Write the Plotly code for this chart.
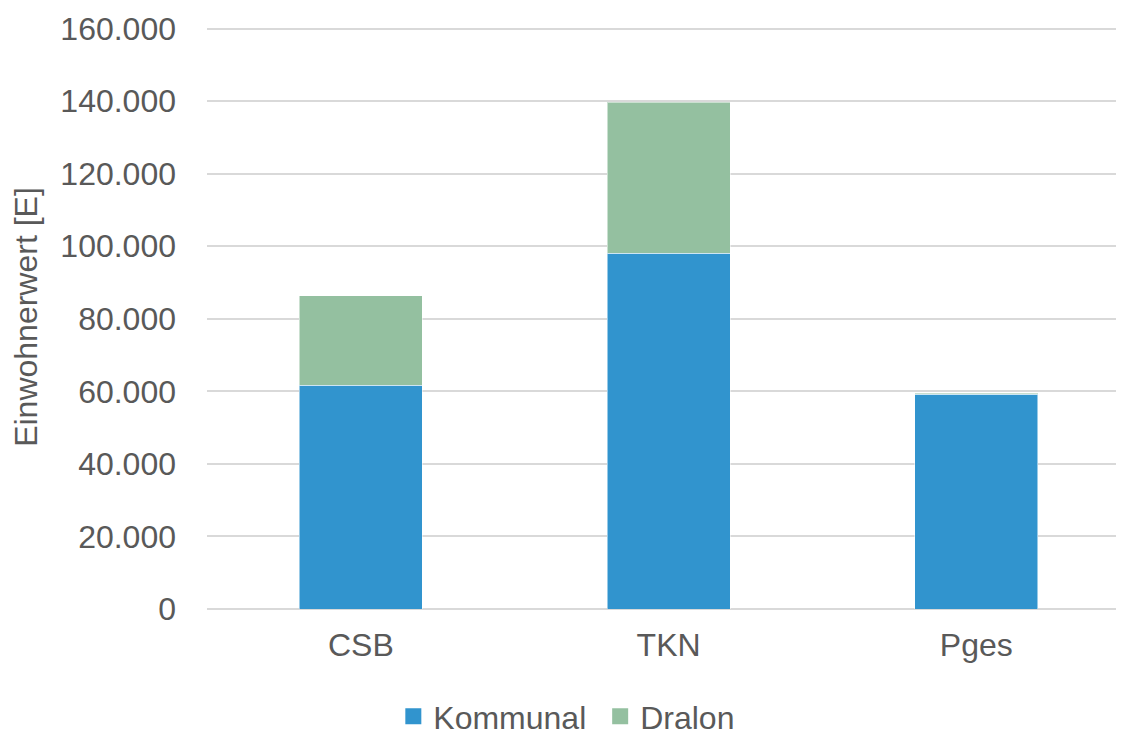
import plotly.graph_objects as go

categories = ["CSB", "TKN", "Pges"]
kommunal = [61700, 98100, 59200]
dralon = [24700, 41600, 300]
y_ticks = [0, 20000, 40000, 60000, 80000, 100000, 120000, 140000, 160000]
y_labels = ["0", "20.000", "40.000", "60.000", "80.000", "100.000", "120.000", "140.000", "160.000"]

text_color = "#595959"
grid_color = "#d9d9d9"
blue = "#3194ce"
green = "#94c0a0"
font_family = "Liberation Sans, Arial, sans-serif"

fig = go.Figure()
fig.add_trace(go.Bar(
    x=categories, y=kommunal, name="Kommunal", showlegend=False,
    marker=dict(color=blue, line=dict(color="rgba(255,255,255,0.5)", width=1)),
    width=0.4,
))
fig.add_trace(go.Bar(
    x=categories, y=dralon, name="Dralon", showlegend=False,
    marker=dict(color=green, line=dict(color="rgba(255,255,255,0.5)", width=1)),
    width=0.4,
))
# legend entries with bigger square swatches
for name, color in [("Kommunal\u00a0", blue), ("Dralon", green)]:
    fig.add_trace(go.Scatter(
        x=[None], y=[None], mode="markers", name=name,
        marker=dict(symbol="square", size=17, color=color),
    ))

fig.update_layout(
    barmode="stack",
    width=1124, height=734,
    margin=dict(l=199, r=0, t=17, b=133, autoexpand=False),
    paper_bgcolor="white", plot_bgcolor="white",
    font=dict(family=font_family, size=32, color=text_color),
    legend=dict(
        orientation="h", x=0.389, xanchor="center", y=-0.137, yanchor="top",
        font=dict(size=32, color=text_color), traceorder="normal",
        itemwidth=30,
    ),
    showlegend=True,
)
fig.update_xaxes(
    range=[-0.5, 2.506], showgrid=False, showline=False, zeroline=False,
    automargin=False,
    ticks="", tickfont=dict(size=32, color=text_color), ticklabelstandoff=14,
)
fig.update_yaxes(
    range=[0, 161000], tickvals=y_ticks, ticktext=y_labels,
    automargin=False,
    showgrid=True, gridcolor=grid_color, gridwidth=2,
    zeroline=True, zerolinecolor=grid_color, zerolinewidth=2,
    ticks="", tickfont=dict(size=32, color=text_color), ticklabelstandoff=30,
    title=dict(text="Einwohnerwert [E]", font=dict(size=32, color=text_color), standoff=18),
)

fig.write_html("out.html")
